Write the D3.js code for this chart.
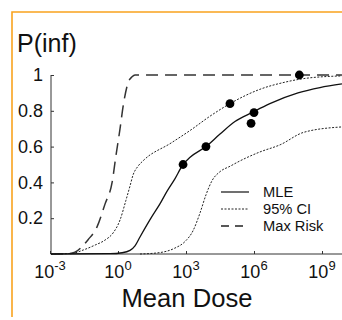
<!DOCTYPE html>
<html><head><meta charset="utf-8">
<script src="https://cdn.jsdelivr.net/npm/d3@7"></script>
<style>html,body{margin:0;padding:0;background:#fff;}svg{display:block;font-family:"Liberation Sans",Arial,sans-serif;}</style>
</head><body><svg id="c" width="342" height="320"></svg>
<script>
// log10(Mean Dose) and P(inf)
const mleLog = [-2.96,-0.35,0.18,0.53,0.75,0.97,1.50,1.85,2.16,2.51,2.87,3.18,3.88,4.50,5.16,5.91,6.70,7.94,8.91,9.88];
const mleP   = [0,0.002,0.007,0.02,0.045,0.095,0.21,0.28,0.35,0.42,0.50,0.54,0.60,0.67,0.74,0.79,0.84,0.90,0.93,0.95];
const ciHiLog = [-2.96,-2.0,-1.54,-1.01,-0.57,-0.22,0.09,0.35,0.53,0.66,0.88,1.10,2.34,3.18,4.06,4.94,6.26,7.37,8.2,9.88];
const ciHiP   = [0,0.004,0.022,0.05,0.078,0.117,0.19,0.30,0.38,0.44,0.49,0.52,0.62,0.69,0.77,0.84,0.92,0.96,0.98,0.995];
const ciLoLog = [0.97,1.85,2.51,2.96,3.31,3.62,3.88,4.15,4.50,4.94,5.38,6.26,7.15,8.2,9.88];
const ciLoP   = [0,0.008,0.033,0.07,0.13,0.23,0.33,0.41,0.46,0.49,0.52,0.57,0.61,0.68,0.71];
const maxLog = [-2.96,-2.12,-1.90,-1.32,-0.93,-0.57,-0.26,-0.09,0.09,0.22,0.44,0.62,0.75,9.88];
const maxP   = [0,0.003,0.01,0.08,0.15,0.28,0.40,0.55,0.70,0.82,0.955,0.99,1.0,1.0];
const obsLog = [2.87,3.88,4.94,5.87,6.0,8.0];
const obsP   = [0.50,0.60,0.84,0.73,0.79,1.0];
const xTickExp = [-3,0,3,6,9];
const yTicks = [0.2,0.4,0.6,0.8,1];
const legendLabels = ["MLE","95% CI","Max Risk"];

const svg = d3.select("#c");
const x = d3.scaleLinear().domain([-3,10]).range([50,50+13*68/3]);
const y = d3.scaleLinear().domain([0,1]).range([254,75]);

// orange frame
svg.append("path").attr("d","M12,317V12H342").attr("fill","none").attr("stroke","#F9A31E").attr("stroke-width",1.6);

// axes
const gy = svg.append("g").attr("transform","translate(51,0)")
  .call(d3.axisLeft(y).tickValues(yTicks).tickSize(-3).tickSizeOuter(0).tickPadding(8)
  .tickFormat(d=>d===1?"1":d.toFixed(1)));
gy.select(".domain").attr("d","M0,"+y(1)+"V"+y(0)).attr("stroke","#333");
gy.selectAll(".tick line").attr("stroke","#333");
gy.selectAll("text").attr("font-size",18).attr("fill","#111").attr("font-family","Liberation Sans, Arial, sans-serif");

const gx = svg.append("g").attr("transform","translate(0,254)")
  .call(d3.axisBottom(x).tickValues(xTickExp).tickSize(-3).tickSizeOuter(0).tickFormat(""));
gx.select(".domain").attr("d","M51,0H342").attr("stroke","#333");
gx.selectAll(".tick line").attr("stroke","#333");

xTickExp.forEach(e=>{
  const t = svg.append("text").attr("x",x(e)).attr("y",278).attr("text-anchor","middle")
    .attr("fill","#111").attr("font-size",18);
  t.append("tspan").text("10");
  t.append("tspan").attr("dy",-8).attr("font-size",13).text(String(e));
});

svg.append("text").attr("x",17).attr("y",52).attr("font-size",25).attr("fill","#111").text("P(inf)");
svg.append("text").attr("x",187).attr("y",307).attr("text-anchor","middle").attr("font-size",25.6).attr("fill","#111").text("Mean Dose");

const line = d3.line().x(d=>x(d[0])).y(d=>y(d[1])).curve(d3.curveMonotoneX);
const zip = (a,b)=>a.map((v,i)=>[v,b[i]]);

svg.append("path").datum(zip(ciLoLog,ciLoP)).attr("d",line).attr("fill","none").attr("stroke","#222").attr("stroke-width",1).attr("stroke-dasharray","2,1.5");
svg.append("path").datum(zip(ciHiLog,ciHiP)).attr("d",line).attr("fill","none").attr("stroke","#222").attr("stroke-width",1).attr("stroke-dasharray","2,1.5");
svg.append("path").datum(zip(maxLog,maxP)).attr("d",line).attr("fill","none").attr("stroke","#333").attr("stroke-width",1.5).attr("stroke-dasharray","12,7");
svg.append("path").datum(zip(mleLog,mleP)).attr("d",line).attr("fill","none").attr("stroke","#111").attr("stroke-width",1.3);

svg.selectAll("circle.obs").data(zip(obsLog,obsP)).enter().append("circle")
  .attr("cx",d=>x(d[0])).attr("cy",d=>y(d[1])).attr("r",4.4).attr("fill","#000");

// legend
const dashes = [null,"2,1.5","8,6"];
const widths = [1.3,1,1.5];
legendLabels.forEach((lab,i)=>{
  const by = 197 + i*17;
  svg.append("line").attr("x1",221).attr("x2",249).attr("y1",by-5).attr("y2",by-5)
    .attr("stroke","#222").attr("stroke-width",widths[i]).attr("stroke-dasharray",dashes[i]);
  svg.append("text").attr("x",263).attr("y",by).attr("font-size",14.7).attr("fill","#111").text(lab);
});
</script></body></html>
